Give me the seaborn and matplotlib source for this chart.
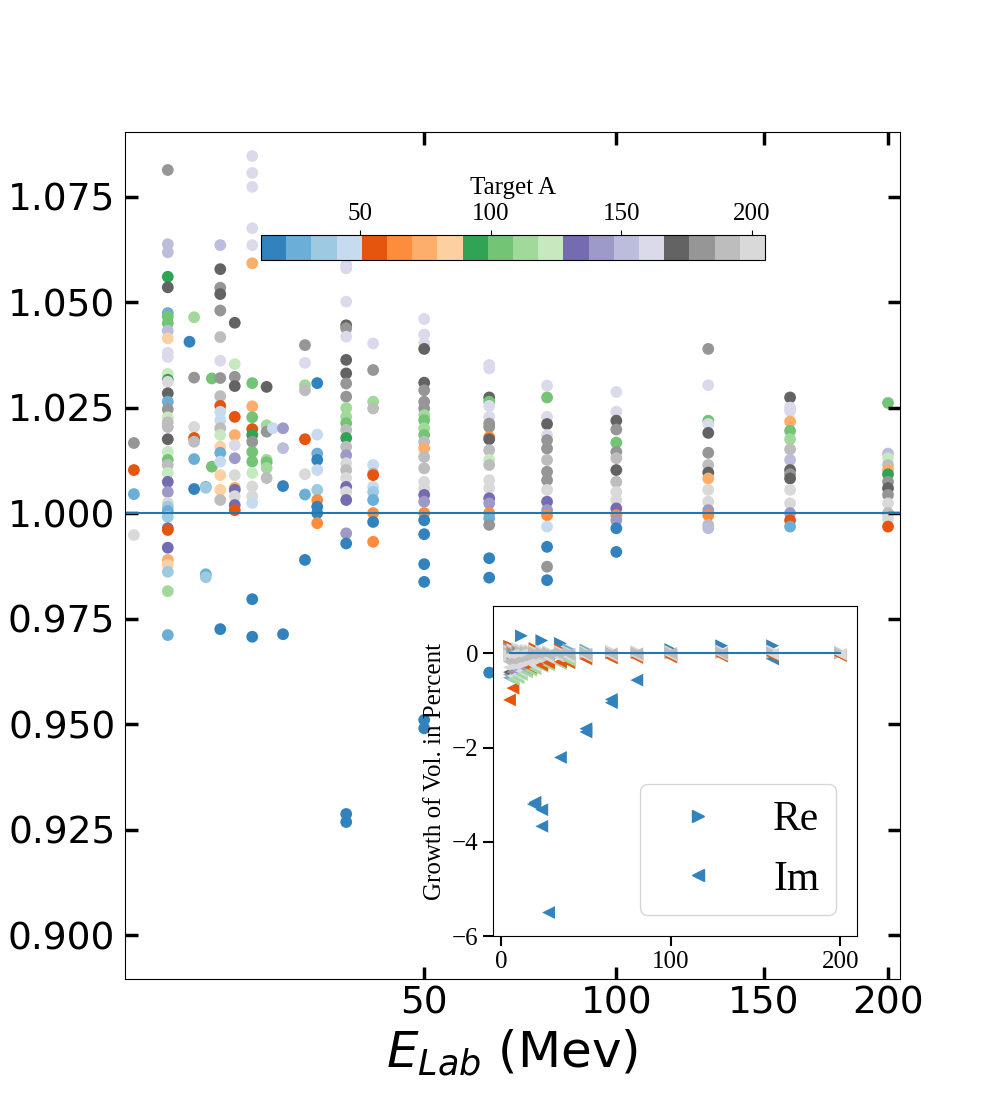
import numpy as np
import pandas as pd
import matplotlib
matplotlib.use('Agg')
import matplotlib.pyplot as plt
import seaborn as sns
from matplotlib.colors import Normalize
from matplotlib.lines import Line2D
from matplotlib.ticker import MultipleLocator, FormatStrFormatter

SERIF = 'Liberation Serif'

# main panel: lab energy (MeV) of each column, target A and ratio per point
main_E = [7, 10, 12.2, 12.7, 14, 14.7, 15.7, 17.5, 19.8, 21.8, 22.7, 24.2,
          27.6, 29.6, 34.6, 39.6, 50, 65, 80, 100, 130, 160, 200]
main_A = [
    [181, 58, 27, 200],
    [181, 152, 152, 92, 172, 27, 104, 104, 152, 88, 160, 160, 124, 92, 200, 172, 27, 181, 124, 192,
     192, 172, 124, 104, 192, 124, 130, 144, 200, 36, 27, 36, 130, 58, 130, 76, 88, 36, 116, 27],
    [16],
    [116, 181, 200, 58, 192, 27, 16],
    [27, 36, 27, 36],
    [104, 104],
    [152, 172, 181, 172, 181, 192, 160, 181, 192, 58, 48, 48, 192, 124, 88, 27, 48, 88, 88, 192, 16],
    [172, 124, 181, 172, 58, 76, 160, 144, 200, 76, 130, 200, 130, 58],
    [160, 160, 160, 160, 160, 76, 104, 76, 104, 58, 92, 181, 104, 104, 124, 200, 200, 48, 16, 16],
    [172, 116, 181, 116, 104, 116, 192],
    [48],
    [144, 152, 16, 16],
    [181, 160, 116, 192, 58, 200, 27, 16],
    [16, 48, 27, 16, 48, 36, 64, 16, 16, 64],
    [48, 160, 160, 172, 181, 160, 172, 172, 181, 181, 116, 116, 104, 192, 92, 192, 144, 200, 192, 200,
     130, 200, 130, 144, 16, 16, 16],
    [160, 181, 116, 192, 48, 192, 58, 48, 36, 27, 64, 16, 64],
    [160, 160, 160, 172, 172, 181, 181, 181, 116, 104, 116, 104, 192, 76, 192, 192, 200, 200, 130, 144,
     64, 16, 16, 16, 16, 16, 16],
    [160, 160, 172, 104, 160, 160, 181, 181, 64, 172, 192, 124, 192, 200, 200, 130, 144, 64, 27, 181,
     16, 16, 16],
    [160, 104, 160, 172, 160, 181, 181, 192, 181, 181, 200, 130, 144, 64, 48, 16, 181, 16],
    [160, 160, 172, 181, 104, 181, 192, 172, 192, 200, 200, 130, 64, 144, 16, 16],
    [181, 160, 104, 160, 172, 181, 192, 172, 76, 200, 200, 144, 64, 192, 152],
    [172, 160, 160, 76, 104, 116, 192, 152, 172, 181, 172, 200, 200, 144, 58, 27],
    [104, 152, 124, 192, 76, 92, 181, 172, 181, 200, 192, 200, 58],
]
main_R = [
    [1.0166, 1.0102, 1.0045, 0.9948],
    [1.0813, 1.0637, 1.0618, 1.0560, 1.0535, 1.0474, 1.0465, 1.0450, 1.0432, 1.0414,
     1.0380, 1.0370, 1.0330, 1.0316, 1.0311, 1.0284, 1.0264, 1.0246, 1.0227, 1.0215,
     1.0204, 1.0175, 1.0145, 1.0126, 1.0114, 1.0095, 1.0074, 1.0050, 1.0024, 1.0015,
     1.0005, 0.9991, 0.9964, 0.9960, 0.9918, 0.9889, 0.9877, 0.9861, 0.9815, 0.9711],
    [1.0406],
    [1.0464, 1.0321, 1.0204, 1.0178, 1.0169, 1.0128, 1.0057],
    [1.0062, 1.0060, 0.9855, 0.9848],
    [1.0319, 1.0110],
    [1.0635, 1.0578, 1.0534, 1.0519, 1.0480, 1.0417, 1.0361, 1.0320, 1.0277, 1.0254,
     1.0240, 1.0220, 1.0201, 1.0185, 1.0157, 1.0143, 1.0122, 1.0090, 1.0055, 1.0031, 0.9725],
    [1.0451, 1.0353, 1.0323, 1.0301, 1.0228, 1.0185, 1.0161, 1.0130, 1.0090, 1.0060,
     1.0055, 1.0040, 1.0019, 1.0007],
    [1.0846, 1.0806, 1.0773, 1.0675, 1.0635, 1.0592, 1.0308, 1.0253, 1.0227, 1.0199,
     1.0185, 1.0169, 1.0145, 1.0122, 1.0095, 1.0063, 1.0040, 1.0024, 0.9796, 0.9707],
    [1.0299, 1.0208, 1.0193, 1.0126, 1.0120, 1.0107, 1.0083],
    [1.0201],
    [1.0201, 1.0154, 1.0064, 0.9713],
    [1.0398, 1.0356, 1.0303, 1.0291, 1.0175, 1.0092, 1.0044, 0.9889],
    [1.0308, 1.0186, 1.0141, 1.0126, 1.0102, 1.0055, 1.0031, 1.0015, 1.0000, 0.9976],
    [1.0588, 1.0580, 1.0501, 1.0445, 1.0438, 1.0418, 1.0363, 1.0331, 1.0307, 1.0276,
     1.0249, 1.0228, 1.0213, 1.0197, 1.0178, 1.0157, 1.0137, 1.0118, 1.0102, 1.0083,
     1.0062, 1.0050, 1.0031, 0.9952, 0.9928, 0.9287, 0.9268],
    [1.0402, 1.0339, 1.0264, 1.0248, 1.0114, 1.0094, 1.0090, 1.0062, 1.0050, 1.0031,
     1.0000, 0.9979, 0.9932],
    [1.0460, 1.0423, 1.0402, 1.0389, 1.0309, 1.0291, 1.0264, 1.0248, 1.0232, 1.0220,
     1.0201, 1.0185, 1.0169, 1.0153, 1.0133, 1.0106, 1.0074, 1.0058, 1.0043, 1.0027,
     1.0000, 0.9983, 0.9950, 0.9879, 0.9837, 0.9510, 0.9490],
    [1.0351, 1.0343, 1.0274, 1.0264, 1.0254, 1.0228, 1.0212, 1.0204, 1.0180, 1.0175,
     1.0149, 1.0126, 1.0114, 1.0078, 1.0059, 1.0035, 1.0023, 1.0000, 0.9988, 0.9972,
     0.9893, 0.9847, 0.9622],
    [1.0302, 1.0274, 1.0228, 1.0211, 1.0185, 1.0173, 1.0153, 1.0126, 1.0098, 1.0078,
     1.0055, 1.0027, 1.0007, 0.9995, 0.9968, 0.9920, 0.9873, 0.9841],
    [1.0287, 1.0240, 1.0219, 1.0198, 1.0167, 1.0145, 1.0130, 1.0102, 1.0074, 1.0050,
     1.0031, 1.0011, 0.9995, 0.9983, 0.9964, 0.9908],
    [1.0389, 1.0303, 1.0219, 1.0211, 1.0190, 1.0143, 1.0114, 1.0096, 1.0082, 1.0055,
     1.0027, 1.0007, 0.9995, 0.9972, 0.9964],
    [1.0274, 1.0250, 1.0242, 1.0217, 1.0195, 1.0175, 1.0151, 1.0126, 1.0102, 1.0092,
     1.0082, 1.0055, 1.0023, 1.0000, 0.9983, 0.9968],
    [1.0261, 1.0141, 1.0130, 1.0114, 1.0102, 1.0092, 1.0074, 1.0059, 1.0043, 1.0023,
     1.0000, 0.9987, 0.9968],
]

# inset: growth of volume integral in percent (Re / Im) per energy
in_E = [5, 7, 10, 12, 15, 17.5, 19, 20, 24, 28, 35, 40, 50, 65, 80, 100, 130, 160, 200]
re_A = [[58, 181, 200, 192, 200], [58, 200, 192, 181], [200, 192, 181], [16, 200, 192],
        [200, 192], [200, 192], [], [58, 200, 192], [16, 200, 192], [200, 192],
        [16, 58, 200, 192], [27, 200, 192], [27, 200, 192], [200, 192], [200, 192],
        [16, 200, 192], [16, 200, 192], [16, 200, 192], [200, 192]]
re_V = [[0.15, 0.10, 0.05, 0.0, -0.05], [0.12, 0.08, 0.03, 0.0], [0.10, 0.05, 0.02], [0.37, 0.08, 0.03],
        [0.07, 0.02], [0.06, 0.02], [], [0.10, 0.05, 0.01], [0.27, 0.05, 0.0], [0.04, 0.0],
        [0.21, 0.08, 0.04, 0.0], [0.08, 0.03, 0.0], [0.07, 0.03, 0.0], [0.05, 0.0], [0.04, 0.0],
        [0.08, 0.04, 0.0], [0.16, 0.05, 0.01], [0.16, 0.05, 0.0], [0.03, 0.0]]
im_A = [[27, 181, 172, 200, 192, 200, 58], [58, 116, 160, 181, 200, 192, 200],
        [116, 160, 144, 200, 192, 200], [116, 160, 200, 192, 200], [116, 144, 200, 192],
        [116, 58, 200, 192], [16], [16, 116, 160, 200, 192], [16, 16, 116, 58, 200, 192],
        [16, 116, 58, 200, 192], [16, 116, 58, 200, 192], [58, 116, 200, 192],
        [16, 16, 58, 200, 192], [16, 16, 58, 200, 192], [16, 58, 200, 192], [16, 58, 200, 192],
        [58, 200, 192], [16, 58, 200], [58, 200]]
im_V = [[-0.52, -0.45, -0.40, -0.30, -0.18, -0.05, -0.99], [-0.74, -0.55, -0.48, -0.40, -0.28, -0.15, -0.04],
        [-0.52, -0.45, -0.38, -0.28, -0.15, -0.05], [-0.45, -0.38, -0.25, -0.12, -0.03],
        [-0.40, -0.33, -0.22, -0.10], [-0.36, -0.30, -0.20, -0.08], [-3.20],
        [-3.16, -0.33, -0.26, -0.16, -0.06], [-3.32, -3.67, -0.28, -0.25, -0.14, -0.05],
        [-5.50, -0.25, -0.20, -0.10, -0.03], [-2.21, -0.22, -0.18, -0.09, -0.03],
        [-0.20, -0.15, -0.08, -0.02], [-1.60, -1.67, -0.12, -0.06, -0.02],
        [-0.98, -1.05, -0.10, -0.05, -0.01], [-0.57, -0.09, -0.05, -0.01], [-0.05, -0.08, -0.04, 0.0],
        [-0.06, -0.03, 0.0], [-0.12, -0.05, -0.02], [-0.05, -0.02]]


def flatten(energies, A_lists, V_lists, col):
    rows = [(e, a, v) for e, aa, vv in zip(energies, A_lists, V_lists) for a, v in zip(aa, vv)]
    return pd.DataFrame(rows, columns=['E', 'A', col])


main = flatten(main_E, main_A, main_R, 'ratio')
re_df = flatten(in_E, re_A, re_V, 'growth')
im_df = flatten(in_E, im_A, im_V, 'growth')

norm = Normalize(vmin=12, vmax=205)
# pass the colormap object so seaborn maps A numerically (not as categories)
cmap = plt.get_cmap('tab20c')

fig = plt.figure(figsize=(10, 11), dpi=100)
ax = fig.add_subplot(111)
ax.set_xscale('function', functions=(np.sqrt, np.square))
sns.scatterplot(data=main, x='E', y='ratio', hue='A', palette=cmap, hue_norm=norm,
                s=72, linewidth=0, legend=False, ax=ax)
ax.axhline(1.0, color='#1f77b4', lw=1.5)
ax.set_xlim(6.3, 205.2)
ax.set_ylim(0.8896, 1.0903)
ax.set_xticks([50, 100, 150, 200])
ax.yaxis.set_major_locator(MultipleLocator(0.025))
ax.yaxis.set_major_formatter(FormatStrFormatter('%.3f'))
ax.tick_params(direction='in', length=9, width=2.5, labelsize=27, top=True, right=True)
ax.tick_params(axis='y', pad=7)
ax.tick_params(axis='x', pad=5)
ax.set_xlabel(r'$E_{Lab}$ (Mev)', fontsize=36)
ax.set_ylabel('')

# colour bar for target mass
cax = fig.add_axes([0.261, 0.7636, 0.504, 0.0227])
sm = plt.cm.ScalarMappable(norm=norm, cmap=cmap)
cb = fig.colorbar(sm, cax=cax, orientation='horizontal', ticks=[50, 100, 150, 200])
cax.xaxis.set_ticks_position('top')
cax.xaxis.set_label_position('top')
cax.tick_params(labelsize=18)
for t in cax.get_xticklabels():
    t.set_family(SERIF)
cb.set_label('Target A', fontsize=18, family=SERIF, labelpad=7)

# inset
ax2 = fig.add_axes([0.493, 0.149, 0.364, 0.30])
sns.scatterplot(data=re_df, x='E', y='growth', hue='A', palette=cmap, hue_norm=norm,
                marker='>', s=85, linewidth=0, legend=False, ax=ax2)
sns.scatterplot(data=im_df, x='E', y='growth', hue='A', palette=cmap, hue_norm=norm,
                marker='<', s=85, linewidth=0, legend=False, ax=ax2)
ax2.plot([min(in_E), max(in_E)], [0, 0], color='#1f77b4', lw=1.5)
ax2.set_ylim(-6.0, 1.0)
ax2.set_xticks([0, 100, 200])
ax2.set_yticks([-6, -4, -2, 0])
ax2.tick_params(direction='out', length=7, width=1.5, labelsize=18)
for t in ax2.get_xticklabels() + ax2.get_yticklabels():
    t.set_family(SERIF)
ax2.set_xlabel('')
ax2.set_ylabel('Growth of Vol. in Percent', fontsize=18, family=SERIF)

blue = cmap(norm(16))
handles = [Line2D([], [], marker='>', ls='none', color=blue, markersize=9.2),
           Line2D([], [], marker='<', ls='none', color=blue, markersize=9.2)]
ax2.legend(handles, ['Re', 'Im'], loc='lower right', prop={'family': SERIF, 'size': 30})

fig.savefig('out.png', dpi=100)
